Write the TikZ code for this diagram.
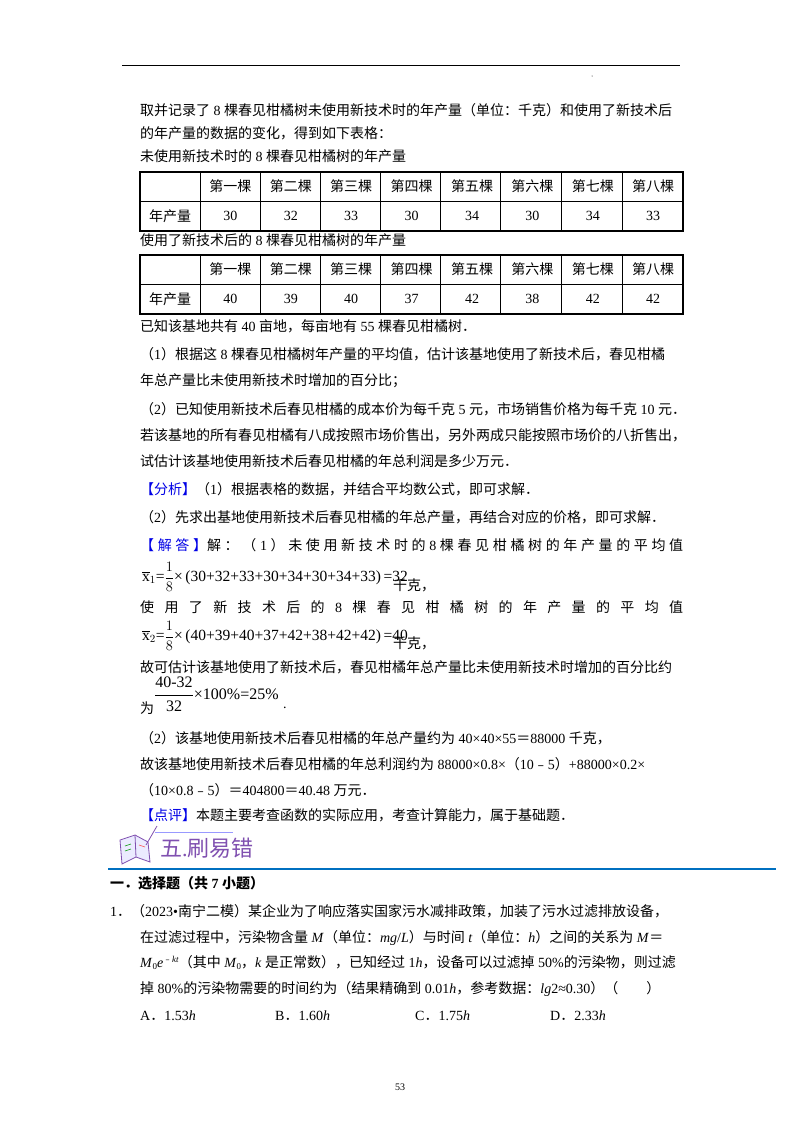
\documentclass[tikz,border=0pt]{standalone}
\usepackage{amsmath}
\usepackage{fontspec}
\setmainfont{Liberation Serif}
\newfontfamily\cjk{Noto Sans CJK SC}
\XeTeXinterchartokenstate=1
\newXeTeXintercharclass\cjkclass
\count255="4E00 \loop \XeTeXcharclass\count255=\cjkclass \advance\count255 1 \ifnum\count255<"A000 \repeat
\count255="3000 \loop \XeTeXcharclass\count255=\cjkclass \advance\count255 1 \ifnum\count255<"3040 \repeat
\count255="FE50 \loop \XeTeXcharclass\count255=\cjkclass \advance\count255 1 \ifnum\count255<"FE70 \repeat
\count255="FF00 \loop \XeTeXcharclass\count255=\cjkclass \advance\count255 1 \ifnum\count255<"FFF0 \repeat
\XeTeXinterchartoks 0 \cjkclass = {\begingroup\cjk}
\XeTeXinterchartoks 4095 \cjkclass = {\begingroup\cjk}
\XeTeXinterchartoks \cjkclass 0 = {\endgroup}
\XeTeXinterchartoks \cjkclass 4095 = {\endgroup}
\definecolor{lblue}{RGB}{0,0,230}
\definecolor{purp}{RGB}{128,80,176}
\definecolor{rule}{RGB}{0,112,192}
\begin{document}
\begin{tikzpicture}[x=1pt,y=-1pt,
  t/.style={anchor=west,inner sep=0pt,font=\fontsize{14}{16}\selectfont},
  c/.style={inner sep=0pt,font=\fontsize{14}{16}\selectfont}]
\useasboundingbox[fill=white] (0,0) rectangle (800,1132);
\draw[line width=1pt] (122,66) -- (680,66);
\fill (592,76) circle (0.5);
\node[t] (l1) at (140,110) {取并记录了 8 棵春见柑橘树未使用新技术时的年产量（单位：千克）和使用了新技术后};
\node[t] (l2) at (140,133) {的年产量的数据的变化，得到如下表格：};
\node[t] (l3) at (140,156) {未使用新技术时的 8 棵春见柑橘树的年产量};
% tables
\foreach \top/\vals/\nm in {172/{30,32,33,30,34,30,34,33}/a,255/{40,39,40,37,42,38,42,42}/b}{
  \draw[line width=1.2pt] (140,\top) rectangle (683,\top+59);
  \draw[line width=1pt] (140,\top+29.5) -- (683,\top+29.5);
  \foreach \x in {200,260,320,380,440,500,561,622}{\draw[line width=1pt] (\x,\top) -- (\x,\top+59);}
  \node[c] (\nm h) at (170,\top+44) {年产量};
  \foreach \h [count=\i] in {第一棵,第二棵,第三棵,第四棵,第五棵,第六棵,第七棵,第八棵}{
    \node[c] (\nm c\i) at (170+60.4*\i,\top+14.5) {\h};}
  \foreach \v [count=\i] in \vals {\node[c] (\nm v\i) at (170+60.4*\i,\top+44) {\v};}
}
\node[t] (l4) at (140,240) {使用了新技术后的 8 棵春见柑橘树的年产量};
\node[t] (l5) at (140,326) {已知该基地共有 40 亩地，每亩地有 55 棵春见柑橘树．};
\node[t] (l6) at (140,354) {（1）根据这 8 棵春见柑橘树年产量的平均值，估计该基地使用了新技术后，春见柑橘};
\node[t] (l7) at (140,381) {年总产量比未使用新技术时增加的百分比；};
\node[t] (l8) at (140,409) {（2）已知使用新技术后春见柑橘的成本价为每千克 5 元，市场销售价格为每千克 10 元．};
\node[t] (l9) at (140,435) {若该基地的所有春见柑橘有八成按照市场价售出，另外两成只能按照市场价的八折售出，};
\node[t] (l10) at (140,461) {试估计该基地使用新技术后春见柑橘的年总利润是多少万元．};
\node[t] (l11) at (140,489) {{\color{lblue}【分析】}（1）根据表格的数据，并结合平均数公式，即可求解．};
\node[t] (l12) at (140,517) {（2）先求出基地使用新技术后春见柑橘的年总产量，再结合对应的价格，即可求解．};
\node[t] (l13) at (140,545) {\makebox[543pt][s]{{\color{lblue}【 解 答 】}解 ： （ 1 ） 未 使 用 新 技 术 时 的 8 棵 春 见 柑 橘 树 的 年 产 量 的 平 均 值}};
\node[t,font=\fontsize{15.5}{17}\selectfont] (f1) at (142,577) {$\overline{\mathrm{x}}_1$=$\dfrac{1}{8}$×\,(30+32+33+30+34+30+34+33)\,=32};
\node[t] (k1) at (393,585) {千克，};
\node[t] (l14) at (140,607) {\makebox[543pt][s]{使 用 了 新 技 术 后 的 8 棵 春 见 柑 橘 树 的 年 产 量 的 平 均 值}};
\node[t,font=\fontsize{15.5}{17}\selectfont] (f2) at (142,636) {$\overline{\mathrm{x}}_2$=$\dfrac{1}{8}$×\,(40+39+40+37+42+38+42+42)\,=40};
\node[t] (k2) at (393,643) {千克，};
\node[t] (l15) at (140,667) {故可估计该基地使用了新技术后，春见柑橘年总产量比未使用新技术时增加的百分比约};
\node[t] (w) at (140,708) {为};
\node[t,font=\fontsize{16}{18}\selectfont] (f3) at (154,694) {$\dfrac{\mbox{40-32}}{\mbox{32}}$×100\%=25\%};
\node[t] (dot) at (283,708) {.};
\node[t] (l16) at (140,738) {（2）该基地使用新技术后春见柑橘的年总产量约为 40×40×55＝88000 千克，};
\node[t] (l17) at (140,764) {故该基地使用新技术后春见柑橘的年总利润约为 88000×0.8×（10﹣5）+88000×0.2×};
\node[t] (l18) at (140,790) {（10×0.8﹣5）＝404800＝40.48 万元．};
\node[t] (l19) at (140,815) {{\color{lblue}【点评】}本题主要考查函数的实际应用，考查计算能力，属于基础题．};
% icon
\draw[purp,fill=blue!8,line width=0.8pt] (120,840) -- (135,835) -- (148,842) -- (150,862) -- (136,857) -- (122,864) -- cycle;
\draw[purp,line width=0.8pt] (135,835) -- (136,857);
\draw[green!60!black,line width=0.6pt] (125,846) -- (131,844) (125,851) -- (131,849);
\draw[red!70,line width=0.6pt] (139,845) -- (145,847);
\draw[purp,line width=0.8pt] (146,845) -- (157,826);
\draw[blue!40,line width=1pt] (155,832) -- (233,832);
\node[anchor=west,inner sep=0pt,text=purp,font=\fontsize{22}{24}\selectfont] (h5) at (160,848) {五.刷易错};
\draw[rule,line width=1.5pt] (108,869) -- (776,869);
\node[t] (q0) at (110,883) {\bfseries 一．选择题（共 7 小题）};
\node[t] (q1) at (110,911) {1．（2023•南宁二模）某企业为了响应落实国家污水减排政策，加装了污水过滤排放设备，};
\node[t] (q2) at (140,938) {在过滤过程中，污染物含量 \textit{M}（单位：\textit{mg}/\textit{L}）与时间 \textit{t}（单位：\textit{h}）之间的关系为 \textit{M}＝};
\node[t] (q3) at (140,963) {\textit{M}\raisebox{-2pt}{\fontsize{9}{9}\selectfont 0}\textit{e}\raisebox{5pt}{\fontsize{9}{9}\selectfont ﹣\textit{kt}}（其中 \textit{M}\raisebox{-2pt}{\fontsize{9}{9}\selectfont 0}，\textit{k} 是正常数），已知经过 1\textit{h}，设备可以过滤掉 50\%的污染物，则过滤};
\node[t] (q4) at (140,989) {掉 80\%的污染物需要的时间约为（结果精确到 0.01\textit{h}，参考数据：\textit{lg}2≈0.30）（\qquad）};
\node[t] (oa) at (140,1016) {A．1.53\textit{h}};
\node[t] (ob) at (275,1016) {B．1.60\textit{h}};
\node[t] (oc) at (415,1016) {C．1.75\textit{h}};
\node[t] (od) at (550,1016) {D．2.33\textit{h}};
\node[inner sep=0pt,font=\fontsize{10}{12}\selectfont] (pg) at (400,1087) {53};
\end{tikzpicture}
\end{document}
